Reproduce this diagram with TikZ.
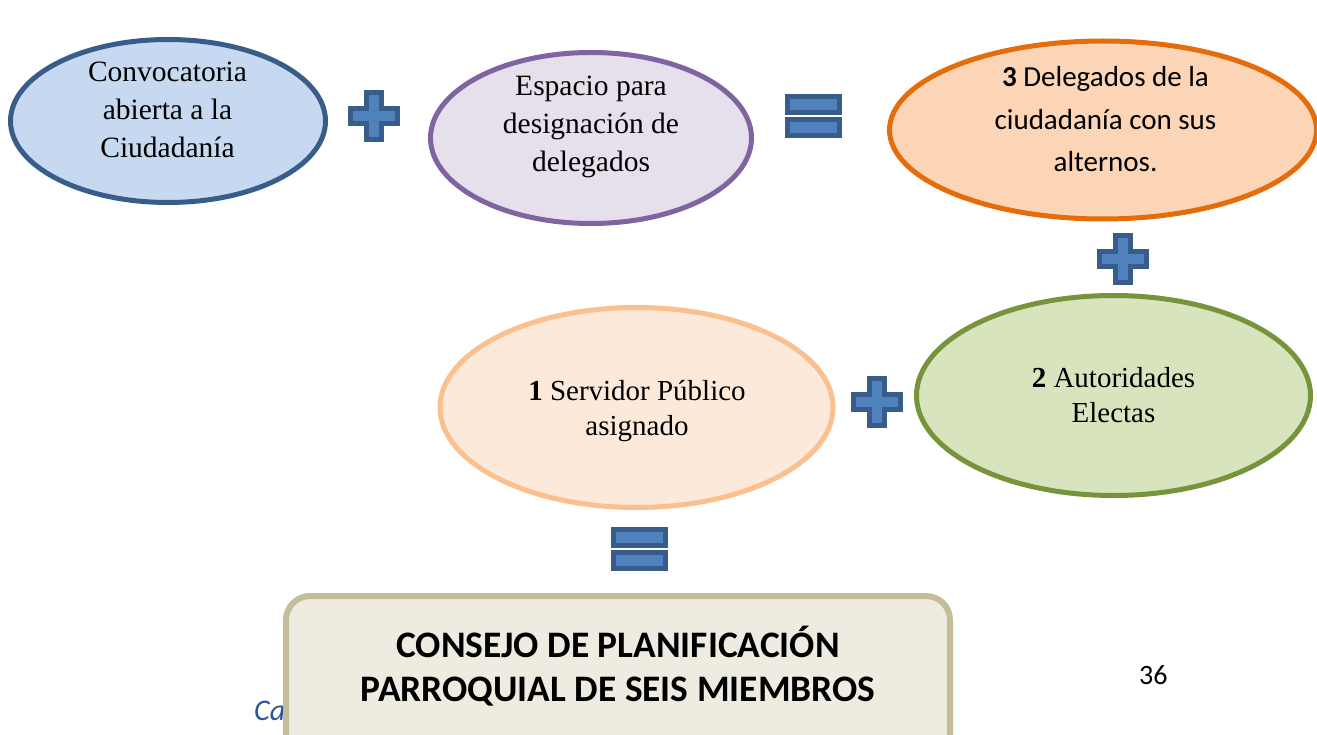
\documentclass[tikz,border=0pt]{standalone}
\usepackage{fontspec}
\setmainfont{Liberation Serif}
\newfontfamily\calibrifont{Carlito}
\usetikzlibrary{shapes.geometric}
\definecolor{blueFill}{RGB}{198,217,241}
\definecolor{blueLine}{RGB}{56,93,138}
\definecolor{purpFill}{RGB}{229,224,236}
\definecolor{purpLine}{RGB}{128,100,162}
\definecolor{orFill}{RGB}{251,213,181}
\definecolor{orLine}{RGB}{228,108,10}
\definecolor{peachFill}{RGB}{253,233,217}
\definecolor{peachLine}{RGB}{250,192,144}
\definecolor{greenFill}{RGB}{215,228,189}
\definecolor{greenLine}{RGB}{119,147,60}
\definecolor{boxFill}{RGB}{238,236,225}
\definecolor{boxLine}{RGB}{196,189,151}
\definecolor{signFill}{RGB}{79,129,189}
\definecolor{signLine}{RGB}{56,93,138}
\definecolor{capBlue}{RGB}{47,84,150}
\tikzset{
  ell/.style={ellipse, line width=5pt, inner sep=0pt},
  serif/.style={inner sep=0pt, align=center, font=\fontsize{29.5}{38}\selectfont},
  serifsm/.style={inner sep=0pt, align=center, font=\fontsize{29}{35}\selectfont},
  sans/.style={inner sep=0pt, align=center, font=\calibrifont\fontsize{29}{42.5}\selectfont},
  signstyle/.style={fill=signFill, draw=signLine, line width=5pt, miter limit=10},
  plussign/.pic={
    \path[signstyle] (-7.5,-23.5) -- (7.5,-23.5) -- (7.5,-7.5) -- (23.5,-7.5) -- (23.5,7.5)
      -- (7.5,7.5) -- (7.5,23.5) -- (-7.5,23.5) -- (-7.5,7.5) -- (-23.5,7.5) -- (-23.5,-7.5)
      -- (-7.5,-7.5) -- cycle;
  },
  eqsign/.pic={
    \path[signstyle] (-26,-19.5) rectangle (26,-3.5);
    \path[signstyle] (-26,3.5) rectangle (26,19.5);
  }
}
\begin{document}
\begin{tikzpicture}[x=1pt,y=-1pt]
\useasboundingbox (0,0) rectangle (1317,735);
\clip (0,0) rectangle (1317,735);

% ellipses
\node[ell, fill=blueFill, draw=blueLine, minimum width=315pt, minimum height=163pt] (e1) at (168,121) {};
\node[ell, fill=purpFill, draw=purpLine, minimum width=321pt, minimum height=171pt] (e2) at (591,138) {};
\node[ell, fill=orFill, draw=orLine, minimum width=427pt, minimum height=178pt] (e3) at (1103,130) {};
\node[ell, fill=peachFill, draw=peachLine, minimum width=393pt, minimum height=200pt] (e4) at (636.5,407.5) {};
\node[ell, fill=greenFill, draw=greenLine, minimum width=394pt, minimum height=200pt] (e5) at (1113.5,395.5) {};

% texts
\node[serif] (t1) at (167.5,112.4) {\strut Convocatoria\\abierta a la\\Ciudadanía\strut};
\node[serif] (t2) at (591,126.4) {\strut Espacio para\\designación de\\delegados\strut};
\node[sans] (t3) at (1105.5,121) {\strut\textbf{3} Delegados de la\\ciudadanía con sus\\alternos.\strut};
\node[serifsm] (t4) at (637,410.5) {\strut\textbf{1} Servidor Público\\asignado\strut};
\node[serifsm] (t5) at (1113.5,398.2) {\strut\textbf{2} Autoridades\\Electas\strut};

% signs
\pic (p1) at (374,116.5) {plussign};
\pic (p2) at (1122.5,259.5) {plussign};
\pic (p3) at (877,402) {plussign};
\pic (q1) at (813.5,116.5) {eqsign};
\pic (q2) at (639.5,549) {eqsign};

% footer text behind box
\node[anchor=base west, inner sep=0pt, text=capBlue, font=\calibrifont\itshape\fontsize{30}{36}\selectfont] (ca) at (254,720) {Ca};
\node[anchor=base west, inner sep=0pt, font=\calibrifont\fontsize{28}{34}\selectfont] (pg) at (1139,684.5) {36};

% result box
\node[draw=boxLine, fill=boxFill, line width=6pt, rounded corners=24pt, minimum width=664pt, minimum height=194pt, inner sep=0pt] (box) at (618,693) {};
\node[inner sep=0pt, align=center, font=\calibrifont\bfseries\fontsize{37.4}{44}\selectfont] (bt) at (618,670.5) {\strut CONSEJO DE PLANIFICACIÓN\\PARROQUIAL DE SEIS MIEMBROS\strut};
\end{tikzpicture}
\end{document}
